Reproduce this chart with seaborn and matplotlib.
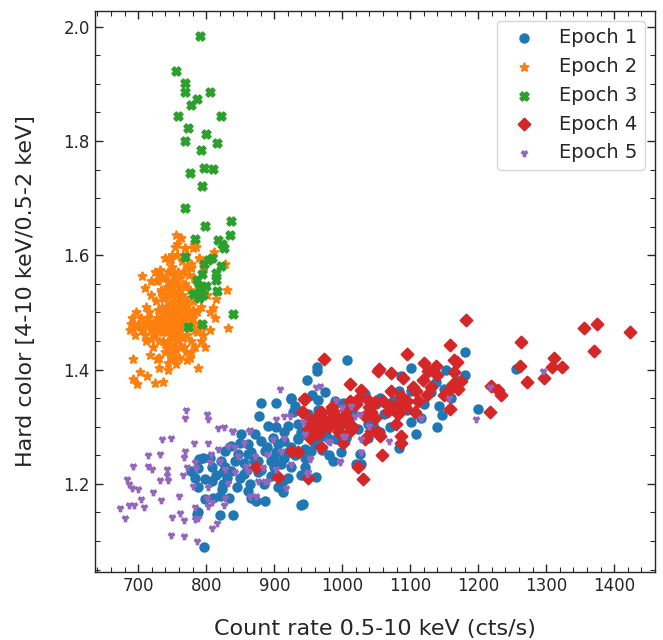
import matplotlib
matplotlib.use("Agg")
import matplotlib.pyplot as plt
import pandas as pd
import seaborn as sns
from matplotlib.ticker import MultipleLocator

# --- data: (count rate, hard color) ---
epoch1 = [
    (948.5, 1.381), (924, 1.350), (880, 1.341), (903, 1.342), (930, 1.337), (964, 1.347),
    (878, 1.318), (927.5, 1.325), (890.7, 1.302), (903, 1.299), (920, 1.302), (935, 1.305),
    (949.5, 1.311), (871, 1.287), (849, 1.272), (861, 1.270), (881, 1.275), (898, 1.281),
    (915, 1.275), (935, 1.278), (954, 1.281), (969, 1.284), (836.8, 1.267), (827, 1.258),
    (846.6, 1.252), (866, 1.255), (885.7, 1.258), (903, 1.255), (920, 1.255), (944.6, 1.261),
    (790, 1.243), (795, 1.246), (808, 1.230), (778, 1.223), (783, 1.211), (787.8, 1.228),
    (822, 1.240), (827, 1.229), (841.6, 1.240), (856, 1.237), (876, 1.240), (895.6, 1.240),
    (910, 1.235), (925, 1.229), (944.6, 1.229), (961.8, 1.212), (824.5, 1.220), (836.8, 1.223),
    (856, 1.217), (876, 1.220), (895.6, 1.214), (912.8, 1.205), (787.8, 1.194), (797.5, 1.208),
    (824.5, 1.199), (797.5, 1.173), (809.8, 1.176), (819.6, 1.179), (834, 1.176), (861, 1.188),
    (873.5, 1.170), (886.8, 1.170), (912.8, 1.185), (863.7, 1.199), (787.8, 1.150), (819.6, 1.145),
    (839, 1.146), (796, 1.090), (938.7, 1.163), (986.8, 1.240), (991, 1.278), (808, 1.205),
    (823.5, 1.191), (787, 1.147), (963, 1.398), (925, 1.349), (949.5, 1.322), (969, 1.305),
    (1032.8, 1.357), (1037.7, 1.305), (1025.5, 1.252), (1028, 1.235), (954.4, 1.258), (910, 1.205),
    (866, 1.176), (998.5, 1.255), (983.8, 1.305), (978.9, 1.281), (935, 1.281), (900, 1.246),
    (861, 1.252), (851.5, 1.287), (1007.4, 1.416), (962.8, 1.404), (1101.5, 1.402), (1152, 1.400),
    (1180, 1.430), (1180, 1.391), (1086.8, 1.389), (1138, 1.378), (1149.6, 1.366), (1101.5, 1.363),
    (1084, 1.363), (1160, 1.350), (1199.5, 1.331), (1141.6, 1.336), (1147, 1.321), (1139, 1.299),
    (1109, 1.287), (1100.5, 1.309), (1256, 1.401), (1001, 1.341), (1023, 1.296), (1037.7, 1.280),
    (1062, 1.322), (1083, 1.262), (1020.6, 1.235), (942, 1.164), (1116, 1.316), (1049.6, 1.340),
    (915, 1.290), (905, 1.270), (925, 1.265), (940, 1.290), (955, 1.295), (960, 1.270),
    (945, 1.245), (930, 1.250), (890, 1.265), (870, 1.240), (880, 1.225), (900, 1.230),
    (915, 1.245), (950, 1.320), (965, 1.330), (975, 1.295), (985, 1.320), (995, 1.300),
    (1005, 1.280), (1010, 1.310), (970, 1.260), (980, 1.250), (940, 1.215), (920, 1.210),
    (905, 1.195), (885, 1.200), (850, 1.210), (845, 1.195), (830, 1.210), (815, 1.215),
    (805, 1.245), (860, 1.225), (955, 1.355), (975, 1.360), (990, 1.345), (1015, 1.325),
    (1045, 1.305), (1055, 1.290), (1070, 1.300), (1095, 1.330), (1120, 1.340), (1075, 1.345),
    (1130, 1.360), (1170, 1.380), (1055, 1.350),
]

epoch2 = [
    (755, 1.636), (754, 1.615), (768.6, 1.612), (782, 1.618), (748.5, 1.594), (778, 1.577),
    (705.4, 1.563), (729, 1.566), (729, 1.556), (709.8, 1.542), (812, 1.606), (828, 1.584),
    (830.4, 1.539), (813.7, 1.523), (810, 1.508), (832, 1.472), (689.7, 1.480), (694.6, 1.460),
    (692, 1.418), (702, 1.396), (712.8, 1.389), (691.6, 1.384), (698, 1.374), (724, 1.377),
    (736.8, 1.378), (716.6, 1.426), (727.5, 1.418), (731, 1.402), (744, 1.411), (753.4, 1.422),
    (771.6, 1.416), (787.8, 1.403), (791.6, 1.450), (778, 1.430), (719, 1.454), (745.6, 1.596),
    (768, 1.612), (780, 1.612), (778, 1.579), (795, 1.585),
    (745, 1.50), (752, 1.52), (760, 1.49), (738, 1.48), (765, 1.53), (748, 1.46),
    (756, 1.55), (770, 1.51), (742, 1.53), (758, 1.47), (735, 1.51), (762, 1.56),
    (750, 1.58), (744, 1.45), (768, 1.48), (776, 1.54), (731, 1.47), (754, 1.44),
    (772, 1.46), (740, 1.56), (728, 1.49), (761, 1.51), (747, 1.54), (766, 1.57),
    (753, 1.48), (739, 1.50), (781, 1.52), (757, 1.60), (733, 1.54), (774, 1.50),
    (722, 1.48), (746, 1.43), (759, 1.45), (764, 1.59), (751, 1.50), (737, 1.45),
    (769, 1.55), (743, 1.57), (755, 1.53), (726, 1.52), (779, 1.48), (749, 1.47),
    (763, 1.49), (741, 1.51), (758, 1.57), (735, 1.56), (771, 1.58), (745, 1.59),
    (752, 1.46), (786, 1.50), (718, 1.47), (713, 1.48), (706, 1.47), (700, 1.48),
    (694, 1.48), (688, 1.47), (710, 1.46), (724, 1.46), (716, 1.50), (730, 1.45),
    (783, 1.47), (790, 1.48), (795, 1.46), (787, 1.53), (778, 1.45), (767, 1.44),
    (760, 1.42), (748, 1.42), (739, 1.43), (730, 1.42), (721, 1.44), (712, 1.45),
    (744, 1.40), (756, 1.41), (770, 1.43), (776, 1.42), (784, 1.44), (763, 1.46),
    (753, 1.565), (747, 1.515), (734, 1.535), (727, 1.555), (719, 1.53), (742, 1.545),
    (760, 1.545), (767, 1.525), (775, 1.565), (782, 1.56), (789, 1.55), (796, 1.58),
    (801, 1.53), (792, 1.51), (805, 1.50), (798, 1.44), (806, 1.47), (813, 1.49),
    (757, 1.62), (763, 1.63), (749, 1.60), (770, 1.60), (739, 1.595), (732, 1.575),
    (724, 1.57), (718, 1.555), (711, 1.51), (704, 1.49), (697, 1.50), (691, 1.49),
    (734, 1.49), (746, 1.49), (758, 1.50), (773, 1.49), (780, 1.505), (750, 1.455),
    (736, 1.465), (762, 1.475), (775, 1.475), (740, 1.525), (729, 1.505), (714, 1.49),
    (755, 1.435), (743, 1.435), (766, 1.455), (787, 1.465), (752, 1.535), (765, 1.505),
    (748, 1.575), (778, 1.585), (790, 1.595), (785, 1.615),
    (749, 1.505), (756, 1.515), (743, 1.495), (761, 1.525), (737, 1.495), (754, 1.475),
    (766, 1.485), (745, 1.475), (751, 1.545), (759, 1.535), (741, 1.465), (733, 1.48),
    (770, 1.495), (757, 1.455), (747, 1.445), (763, 1.44), (739, 1.445), (753, 1.555),
    (744, 1.555), (768, 1.545), (729, 1.475), (772, 1.52), (736, 1.525), (760, 1.465),
    (750, 1.49), (742, 1.485), (758, 1.485), (764, 1.515), (748, 1.53), (755, 1.50),
    (720, 1.475), (708, 1.48), (697, 1.475), (780, 1.49), (793, 1.475), (726, 1.485),
]

epoch3 = [
    (790.2, 1.983), (756, 1.922), (768.6, 1.902), (768, 1.885), (805, 1.885), (785.8, 1.873),
    (778, 1.863), (757.8, 1.843), (821.5, 1.843), (773, 1.823), (799.5, 1.812), (769, 1.800),
    (816, 1.796), (791.6, 1.784), (796, 1.753), (809.8, 1.751), (776.5, 1.744), (793, 1.722),
    (768.6, 1.682), (798, 1.652), (837, 1.660), (783, 1.629), (835, 1.636), (817.6, 1.626),
    (822.5, 1.620), (826, 1.612), (768.6, 1.597), (807.8, 1.595), (803, 1.591), (796.5, 1.584),
    (822, 1.581), (815, 1.569), (794, 1.567), (785.8, 1.557), (815, 1.556), (800, 1.547),
    (790, 1.542), (780.4, 1.533), (816, 1.537), (795, 1.530), (788.7, 1.526), (839.7, 1.498),
    (773.5, 1.474), (793, 1.479),
]

epoch4 = [
    (1182, 1.486), (972.5, 1.418), (1095.6, 1.428), (1159, 1.443), (1164, 1.416), (1169, 1.414),
    (1119.6, 1.411), (1138, 1.406), (1126, 1.398), (1054, 1.401), (1071, 1.394), (1089, 1.385),
    (1010.7, 1.374), (1026.9, 1.364), (944.6, 1.349), (1104, 1.370), (1118.7, 1.381), (1108.8, 1.363),
    (1130.9, 1.369), (1162.8, 1.375), (1170, 1.366), (1157.8, 1.366), (1071, 1.362), (1086.8, 1.354),
    (1018, 1.340), (1037.7, 1.346), (1047.5, 1.343), (1069.6, 1.337), (1082, 1.340), (1091.6, 1.334),
    (1106.3, 1.325), (1157.8, 1.331), (986.3, 1.328), (969, 1.325), (942, 1.325), (1042.6, 1.325),
    (1067, 1.328), (1082, 1.322), (1008, 1.316), (1032.8, 1.319), (1047.5, 1.316), (983.8, 1.313),
    (964, 1.319), (954.4, 1.311), (988.7, 1.305), (1003.4, 1.308), (1015.7, 1.299), (959, 1.299),
    (949.5, 1.296), (971.6, 1.299), (1079.4, 1.304), (1052.5, 1.290), (1055, 1.284), (1032.8, 1.278),
    (1086.8, 1.284), (1085.7, 1.272), (1001, 1.272), (969, 1.265), (952, 1.281), (959, 1.290),
    (1058.4, 1.251), (1023, 1.230), (1030.4, 1.208), (949.5, 1.211), (1216.6, 1.325), (1218, 1.372),
    (1228.9, 1.364), (1233.8, 1.356), (1263, 1.448), (1260.7, 1.407), (1271.6, 1.379), (1296, 1.385),
    (1310.7, 1.420), (1308.3, 1.405), (1323, 1.404), (1354.9, 1.473), (1374.5, 1.479), (1370, 1.432),
    (1422.5, 1.466), (943.5, 1.349), (941, 1.325), (968, 1.325), (983.8, 1.328), (1020.6, 1.340),
    (956, 1.305), (964, 1.287), (1010.7, 1.293), (1042.6, 1.293), (925, 1.258), (935, 1.255),
    (906, 1.212), (873.5, 1.229), (1052.5, 1.398), (957, 1.302), (993.7, 1.305),
    (975, 1.310), (980, 1.300), (990, 1.320), (995, 1.290), (1000, 1.315), (960, 1.310),
    (965, 1.300), (985, 1.335), (1005, 1.330), (1012, 1.345), (1025, 1.350), (1040, 1.335),
    (1060, 1.345), (1075, 1.335), (1095, 1.345), (1112, 1.345), (1125, 1.355), (1140, 1.390),
    (1150, 1.355), (1165, 1.395), (1175, 1.380),
]

epoch5 = [
    (769.6, 1.330), (768.6, 1.316), (801.5, 1.323), (802.5, 1.313), (817.2, 1.298), (825.5, 1.299),
    (838.2, 1.292), (734.8, 1.278), (748.5, 1.280), (781.8, 1.271), (801.9, 1.272), (766.6, 1.247),
    (769, 1.257), (732.6, 1.253), (713.7, 1.250), (692.6, 1.232), (714, 1.232), (720, 1.226),
    (742.6, 1.226), (741.6, 1.216), (743.7, 1.207), (732.6, 1.207), (765.7, 1.216), (771, 1.230),
    (783.4, 1.239), (785, 1.228), (805, 1.239), (807.4, 1.253), (817.2, 1.261), (819.6, 1.240),
    (683.8, 1.209), (686.3, 1.199), (690.7, 1.192), (699.5, 1.191), (721.6, 1.186), (704.4, 1.174),
    (673.5, 1.157), (686.8, 1.163), (693, 1.163), (707.8, 1.160), (680.4, 1.140), (733.8, 1.172),
    (759.8, 1.178), (750, 1.142), (761.8, 1.149), (767.6, 1.136), (783, 1.160), (787.8, 1.140),
    (784, 1.138), (748.5, 1.110), (767.2, 1.109), (785.8, 1.100), (801.5, 1.176), (802.5, 1.161),
    (808.4, 1.169), (808.8, 1.123), (815.1, 1.132), (826, 1.163), (827, 1.175), (802.5, 1.195),
    (781, 1.196), (832, 1.202), (827.9, 1.226), (841.6, 1.220), (846.6, 1.249), (841.6, 1.264),
    (831.9, 1.267), (907.8, 1.366), (961.8, 1.370), (862.2, 1.293), (855.4, 1.272), (898, 1.278),
    (915, 1.281), (915, 1.319), (922.5, 1.319), (903, 1.313), (942, 1.308), (858.8, 1.232),
    (861, 1.223), (871, 1.249), (883.4, 1.229), (889.7, 1.252), (903, 1.226), (924, 1.235),
    (951.9, 1.243), (949.5, 1.220), (876, 1.205), (890.7, 1.205), (917.6, 1.192), (872.5, 1.179),
    (863.7, 1.179), (981.3, 1.274), (996, 1.240), (966.6, 1.372), (991, 1.346), (1013.2, 1.337),
    (1025.5, 1.322), (863.7, 1.294), (839, 1.293), (944.6, 1.287), (978.9, 1.275), (1001, 1.284),
    (1027.9, 1.278), (1027.9, 1.255), (910, 1.258), (885.7, 1.205), (999.6, 1.334), (1018, 1.319),
    (1040, 1.302), (1003.4, 1.284), (1068, 1.275), (997, 1.239), (953, 1.245), (948.5, 1.217),
    (1116, 1.316), (1156.9, 1.350), (1197, 1.313), (1216.6, 1.370), (1295, 1.397),
]

labels = ["Epoch 1", "Epoch 2", "Epoch 3", "Epoch 4", "Epoch 5"]
markers = ["o", "*", "X", "D", "1"]

sns.set_style("ticks")
colors = sns.color_palette("tab10", 5)

fig, ax = plt.subplots(figsize=(6.63, 6.40), dpi=100)
for pts, lab, mk, col in zip([epoch1, epoch2, epoch3, epoch4, epoch5], labels, markers, colors):
    df = pd.DataFrame(pts, columns=["rate", "hc"])
    lw = 2.6 if mk == "1" else 1.5
    sns.scatterplot(data=df, x="rate", y="hc", marker=mk, color=col, edgecolor=col,
                    s=30 if mk == "1" else 36, linewidth=lw, ax=ax, label=lab)

ax.set_xlabel("Count rate 0.5-10 keV (cts/s)", fontsize=16, labelpad=17)
ax.set_ylabel("Hard color [4-10 keV/0.5-2 keV]", fontsize=16, labelpad=20)

ax.xaxis.set_major_locator(MultipleLocator(100))
ax.xaxis.set_minor_locator(MultipleLocator(20))
ax.yaxis.set_major_locator(MultipleLocator(0.2))
ax.yaxis.set_minor_locator(MultipleLocator(0.05))
ax.tick_params(which="both", direction="in", top=True, right=True, labelsize=12)
ax.tick_params(which="major", length=6, width=1)
ax.tick_params(which="minor", length=3.5, width=0.8)
for sp in ax.spines.values():
    sp.set_linewidth(1)

ax.legend(loc="upper right", fontsize=14)

fig.subplots_adjust(left=0.143, right=0.988, bottom=0.106, top=0.983)
fig.savefig("out.png", dpi=100)
